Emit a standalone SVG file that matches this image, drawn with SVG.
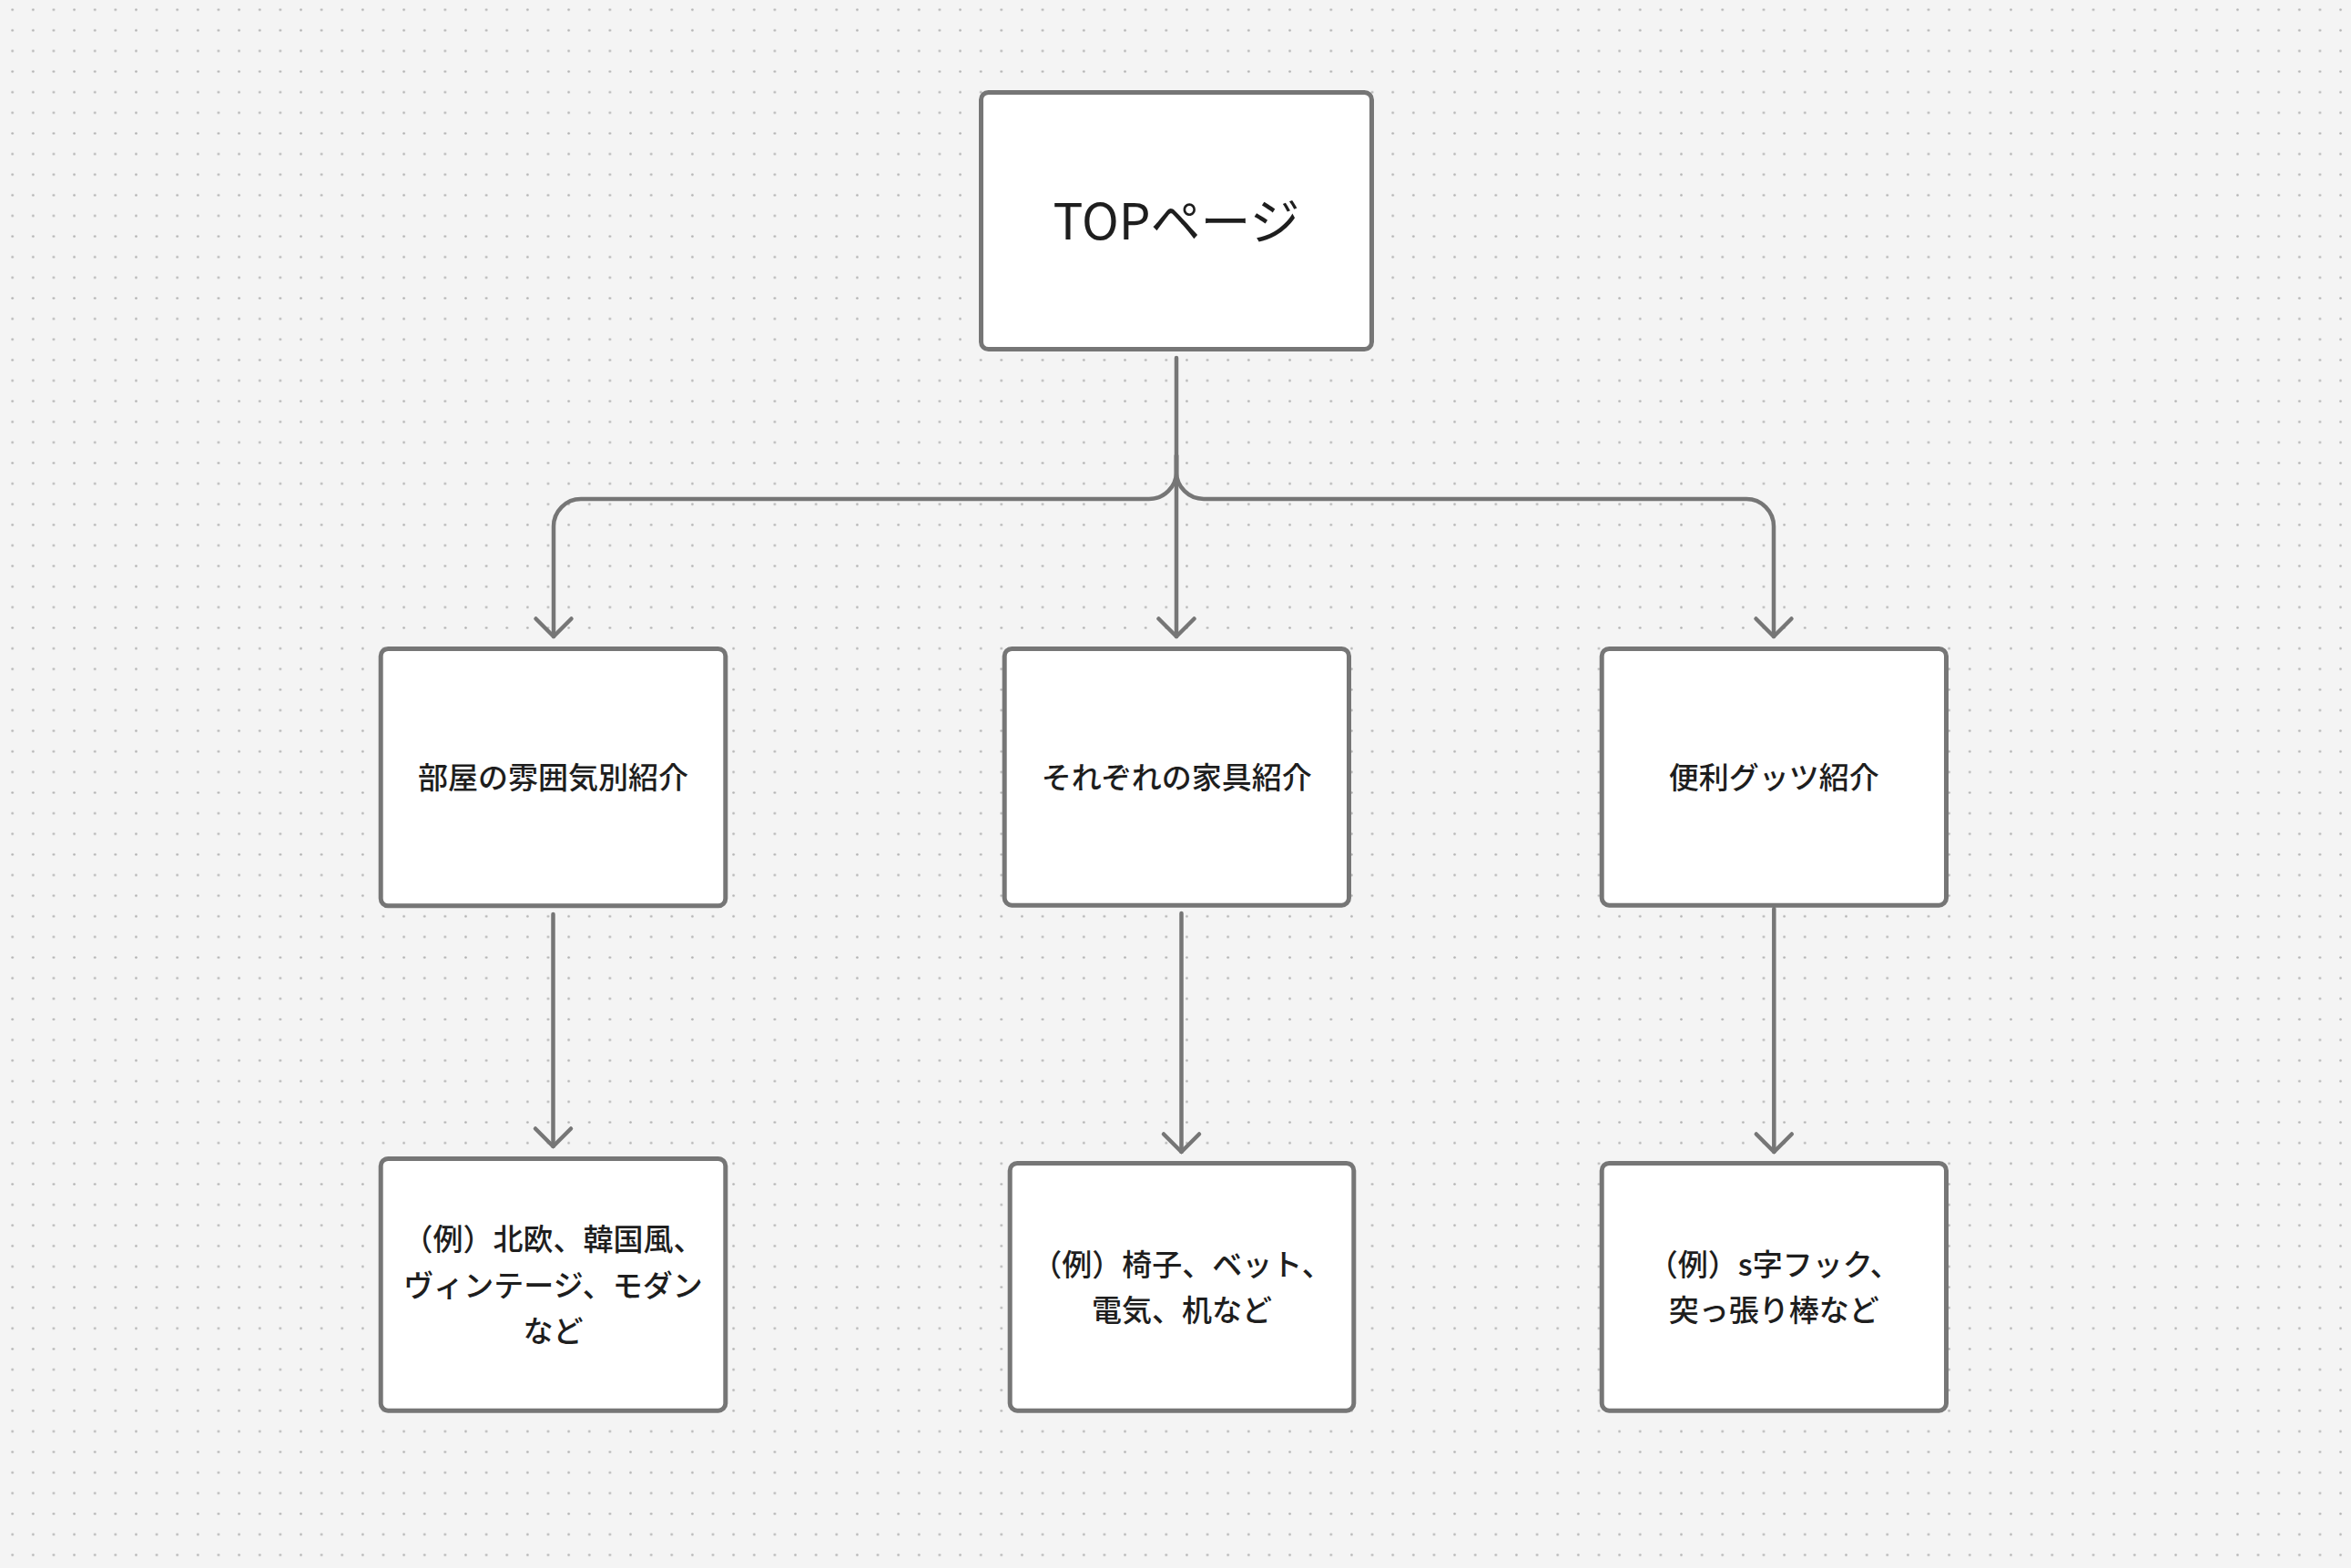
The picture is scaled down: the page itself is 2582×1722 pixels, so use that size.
<svg xmlns="http://www.w3.org/2000/svg" width="2582" height="1722" viewBox="0 0 2582 1722">
  <style>
    .box { fill: #ffffff; stroke: #767676; stroke-width: 5; }
    .lbl { font-family: "Noto Sans CJK JP", "Noto Sans", sans-serif; font-size: 33px; font-weight: 500; fill: #1e1e1e; text-anchor: middle; }
    .title { font-size: 55px; font-weight: 400; }
    .edge { fill: none; stroke: #767676; stroke-width: 4.5; stroke-linecap: round; stroke-linejoin: round; }
  </style>
  <defs>
    <pattern id="dots" patternUnits="userSpaceOnUse" x="2.4" y="-0.6" width="22.627" height="22.627">
      <circle cx="11.31" cy="11.31" r="1.3" fill="#b0b0b0"/>
    </pattern>
    <marker id="arrow" markerUnits="userSpaceOnUse" viewBox="-25 -25 30 50" refX="0" refY="0" markerWidth="30" markerHeight="50" orient="auto" overflow="visible">
      <path d="M-19.5,-19.5 L0,0 L-19.5,19.5" fill="none" stroke="#767676" stroke-width="4.5" stroke-linecap="round" stroke-linejoin="round"/>
    </marker>
  </defs>

  <rect x="0" y="0" width="2582" height="1722" fill="#f4f4f4"/>
  <rect x="0" y="0" width="2582" height="1722" fill="url(#dots)"/>

  <g id="connectors">
    <path class="edge" d="M1292,393 V699" marker-end="url(#arrow)"/>
    <path class="edge" d="M1292,500 V518 A30,30 0 0 1 1262,548 H638 A30,30 0 0 0 608,578 V699" marker-end="url(#arrow)"/>
    <path class="edge" d="M1292,500 V518 A30,30 0 0 0 1322,548 H1918 A30,30 0 0 1 1948,578 V699" marker-end="url(#arrow)"/>
    <path class="edge" d="M607.5,1004 V1259" marker-end="url(#arrow)"/>
    <path class="edge" d="M1297.5,1003 V1265" marker-end="url(#arrow)"/>
    <path class="edge" d="M1948.3,998 V1265" marker-end="url(#arrow)"/>
  </g>

  <g id="node-top">
    <rect class="box" x="1077.5" y="101.5" width="429" height="282" rx="8"/>
    <text class="lbl title" x="1292" y="263">TOPページ</text>
  </g>

  <g id="node-room">
    <rect class="box" x="418.2" y="712.5" width="378.6" height="282.3" rx="8"/>
    <text class="lbl" x="607.5" y="865.5">部屋の雰囲気別紹介</text>
  </g>

  <g id="node-furniture">
    <rect class="box" x="1103.2" y="712.5" width="378.3" height="281.7" rx="8"/>
    <text class="lbl" x="1292.3" y="865.5">それぞれの家具紹介</text>
  </g>

  <g id="node-goods">
    <rect class="box" x="1759.2" y="712.5" width="378.3" height="281.7" rx="8"/>
    <text class="lbl" x="1948.3" y="865.5">便利グッツ紹介</text>
  </g>

  <g id="node-room-ex">
    <rect class="box" x="418.2" y="1272.5" width="378.6" height="276.7" rx="8"/>
    <text class="lbl" x="607.5" y="1372.5">（例）北欧、韓国風、</text>
    <text class="lbl" x="607.5" y="1423.5">ヴィンテージ、モダン</text>
    <text class="lbl" x="607.5" y="1474">など</text>
  </g>

  <g id="node-furniture-ex">
    <rect class="box" x="1109.2" y="1277.5" width="377.6" height="271.7" rx="8"/>
    <text class="lbl" x="1298" y="1400.5">（例）椅子、ベット、</text>
    <text class="lbl" x="1298" y="1450.5">電気、机など</text>
  </g>

  <g id="node-goods-ex">
    <rect class="box" x="1759.2" y="1277.5" width="378.3" height="271.7" rx="8"/>
    <text class="lbl" x="1948.3" y="1400.5">（例）s字フック、</text>
    <text class="lbl" x="1948.3" y="1450.5">突っ張り棒など</text>
  </g>
</svg>
